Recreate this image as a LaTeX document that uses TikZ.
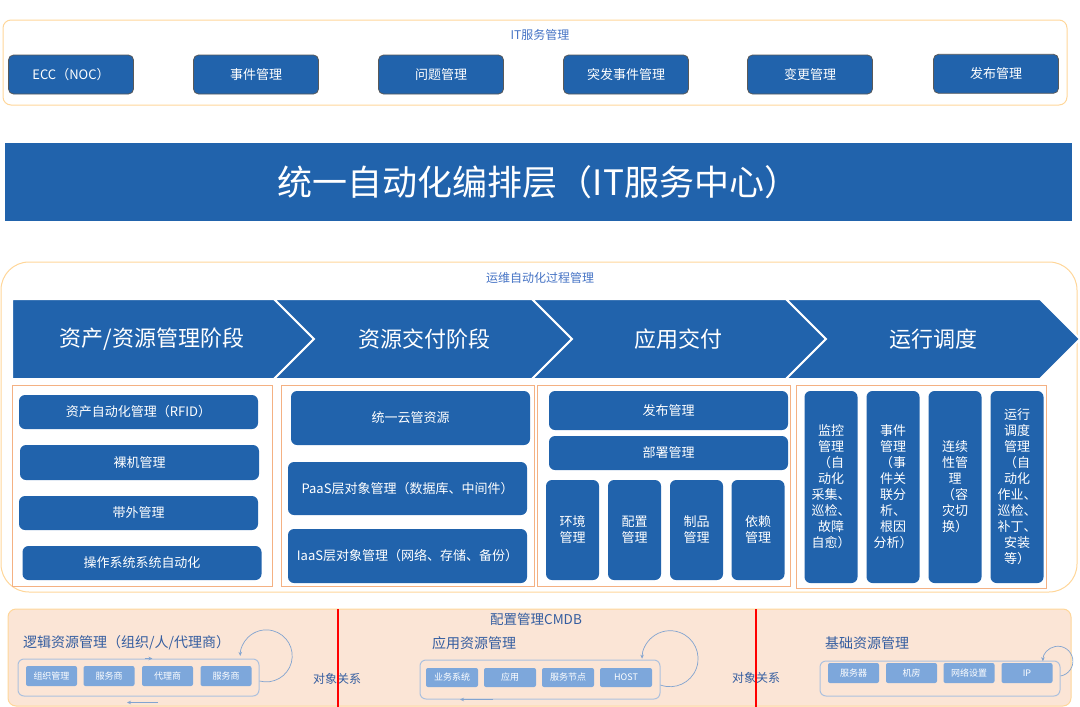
\documentclass[tikz,border=0pt]{standalone}
\usepackage{fontspec}
\setmainfont{Noto Sans CJK SC}
\usetikzlibrary{arrows.meta,positioning}
\definecolor{mb}{RGB}{33,99,172}
\definecolor{ob}{RGB}{255,214,153}
\definecolor{sb}{RGB}{244,177,131}
\definecolor{pc}{RGB}{251,229,214}
\definecolor{lb}{RGB}{125,167,219}
\definecolor{tb}{RGB}{172,193,222}
\definecolor{lc}{RGB}{130,164,208}
\definecolor{tc}{RGB}{68,114,196}
\definecolor{dc}{RGB}{52,93,160}
\newcommand{\fsz}[2]{\fontsize{#1}{#2}\selectfont}
\tikzset{btn/.style={draw=gray!70!black,fill=mb,text=white,rounded corners=5pt,minimum width=125pt,minimum height=39pt,font=\fsz{13}{16},line width=.8pt},
 cell/.style={fill=mb,text=white,rounded corners=6pt,minimum width=239pt,font=\fsz{13}{16},align=center,inner sep=0pt},
 col/.style={cell,minimum width=53pt},
 pane/.style={draw=sb,line width=.9pt,inner sep=0pt},
 grp/.style={draw=ob,line width=1pt,inner sep=0pt},
 ttl/.style={text=tc,font=\fsz{12}{14}},
 stage/.style={fill=mb,draw=white,line width=2pt},
 slab/.style={text=white,font=\fsz{22}{26}},
 chip/.style={fill=lb,text=white,rounded corners=2pt,minimum width=51pt,minimum height=20pt,font=\fsz{9}{10},inner sep=0pt},
 tray/.style={draw=tb,line width=1pt,rounded corners=6pt,inner sep=0pt},
 res/.style={text=dc,font=\fsz{14}{16},anchor=west,inner sep=0pt},
 rel/.style={text=dc,font=\fsz{12}{14}},
 cyc/.style={draw=lc,line width=.7pt,-{Stealth[length=4pt,width=3.5pt]}}}
\begin{document}
\begin{tikzpicture}[x=1pt,y=-1pt]
\useasboundingbox (0,0) rectangle (1080,707);
\node[grp,rounded corners=8pt,minimum width=1064pt,minimum height=85pt] (itbox) at (535,62.5) {};
\node[ttl] (itsm) at (540,35) {IT服务管理};
\node[btn] (ecc) at (71,74.5) {ECC（NOC）};
\node[btn] (inc) at (256,74.5) {事件管理};
\node[btn] (prb) at (441,74.5) {问题管理};
\node[btn] (emg) at (626,74.5) {突发事件管理};
\node[btn] (chg) at (810,74.5) {变更管理};
\node[btn] (rls) at (996,73.8) {发布管理};

\node[fill=mb,text=white,minimum width=1067pt,minimum height=78pt,font=\fsz{35}{40}] (hub) at (538.5,182) {统一自动化编排层（IT服务中心）};

\node[grp,rounded corners=28pt,minimum width=1076pt,minimum height=330pt] (ops) at (539,427) {};
\node[ttl] (opst) at (540,278) {运维自动化过程管理};
\filldraw[stage] (12,299) -- (274,299) -- (314,339) -- (274,379) -- (12,379) -- cycle;
\foreach \a/\b in {274/532,532/786,786/1040}
  \filldraw[stage] (\a,299) -- (\b,299) -- (\b+40,339) -- (\b,379) -- (\a,379) -- (\a+40,339) -- cycle;
\node[slab] (s1) at (152,339) {资产/资源管理阶段};
\node[slab] (s2) at (424,339) {资源交付阶段};
\node[slab] (s3) at (678,339) {应用交付};
\node[slab] (s4) at (933,339) {运行调度};

\node[pane,minimum width=260pt,minimum height=201pt] (p1) at (142,485.5) {};
\node[pane,minimum width=253pt,minimum height=201pt] (p2) at (407.5,485.5) {};
\node[pane,minimum width=253pt,minimum height=201pt] (p3) at (663.5,485.5) {};
\node[pane,minimum width=250pt,minimum height=203pt] (p4) at (921,486.5) {};

\node[cell,minimum height=34pt] (rfid) at (138.5,412) {资产自动化管理（RFID）};
\node[cell,minimum height=35pt] (bare) at (139.5,462.5) {裸机管理};
\node[cell,minimum height=34pt] (oob) at (138.5,513) {带外管理};
\node[cell,minimum height=34pt] (osa) at (142,563) {操作系统系统自动化};

\node[cell,minimum height=54pt] (cmp) at (410.5,418) {统一云管资源};
\node[cell,minimum height=53pt] (paas) at (407.5,488.5) {PaaS层对象管理（数据库、中间件）};
\node[cell,minimum height=54pt] (iaas) at (407.5,556) {IaaS层对象管理（网络、存储、备份）};

\node[cell,minimum height=39pt] (pub) at (668.5,410.5) {发布管理};
\node[cell,minimum height=34pt] (dep) at (668.5,453) {部署管理};
\node[col,minimum height=100pt] (env) at (572.5,530) {环境\\管理};
\node[col,minimum height=100pt] (cfg) at (634.5,530) {配置\\管理};
\node[col,minimum height=100pt] (art) at (696.5,530) {制品\\管理};
\node[col,minimum height=100pt] (dpn) at (758,530) {依赖\\管理};

\node[col,minimum height=192pt] (mon) at (831,487) {监控\\管理\\（自\\动化\\采集、\\巡检、\\故障\\自愈）};
\node[col,minimum height=192pt] (evt) at (893,487) {事件\\管理\\（事\\件关\\联分\\析、\\根因\\分析）};
\node[col,minimum height=192pt] (bcm) at (955,487) {连续\\性管\\理\\（容\\灾切\\换）};
\node[col,minimum height=192pt] (sch) at (1017,487) {运行\\调度\\管理\\（自\\动化\\作业、\\巡检、\\补丁、\\安装\\等）};

\node[grp,fill=pc,rounded corners=8pt,minimum width=1063pt,minimum height=97pt] (cmdb) at (539.5,657.5) {};
\node[text=dc,font=\fsz{13.5}{16}] (cmdbt) at (536,619) {配置管理CMDB};

\node[res] (lgt) at (23,643) {逻辑资源管理（组织/人/代理商）};
\node[tray,minimum width=241pt,minimum height=37pt] (lg) at (138.5,677.5) {};
\node[chip] (org) at (51.5,676) {组织管理};
\node[chip] (sp1) at (109,676) {服务商};
\node[chip] (agt) at (167.5,676) {代理商};
\node[chip] (sp2) at (226,676) {服务商};
\draw[cyc] ([shift={(0,3.5)}]lg.east) arc[start angle=105,end angle=-180,radius=26];
\draw[cyc] ([shift={(6,0)}]lg.north) -- ++(8,0);
\draw[cyc] ([shift={(19.5,6)}]lg.south) -- ++(-31,0);

\node[res] (agt2) at (432,643) {应用资源管理};
\node[tray,minimum width=240pt,minimum height=39pt] (ag) at (540,679.5) {};
\node[chip,minimum height=19pt,minimum width=52pt] (bsys) at (452,677.5) {业务系统};
\node[chip,minimum height=19pt,minimum width=52pt] (app) at (510,677.5) {应用};
\node[chip,minimum height=19pt,minimum width=52pt] (svn) at (568,677.5) {服务节点};
\node[chip,minimum height=19pt,minimum width=52pt] (host) at (626,677.5) {HOST};
\draw[cyc] ([shift={(0,5.5)}]ag.east) arc[start angle=110,end angle=-180,radius=28];
\draw[cyc] ([shift={(-47,0)}]ag.south) -- ++(-33,0);

\node[res] (bgt) at (825,643) {基础资源管理};
\node[tray,minimum width=240pt,minimum height=35pt] (bg) at (940,678.5) {};
\node[chip] (srv) at (853.5,673) {服务器};
\node[chip] (idc) at (911.5,673) {机房};
\node[chip] (net) at (969,673) {网络设置};
\node[chip] (ip) at (1027,673) {IP};
\draw[cyc] ([shift={(0,-2.5)}]bg.east) arc[start angle=80,end angle=-180,radius=15];

\node[rel] (rel1) at (337,679) {对象关系};
\node[rel] (rel2) at (756,678) {对象关系};
\draw[red,line width=1.5pt] (338,609) -- (338,707);
\draw[red,line width=1.5pt] (756,609) -- (756,707);
\end{tikzpicture}
\end{document}
